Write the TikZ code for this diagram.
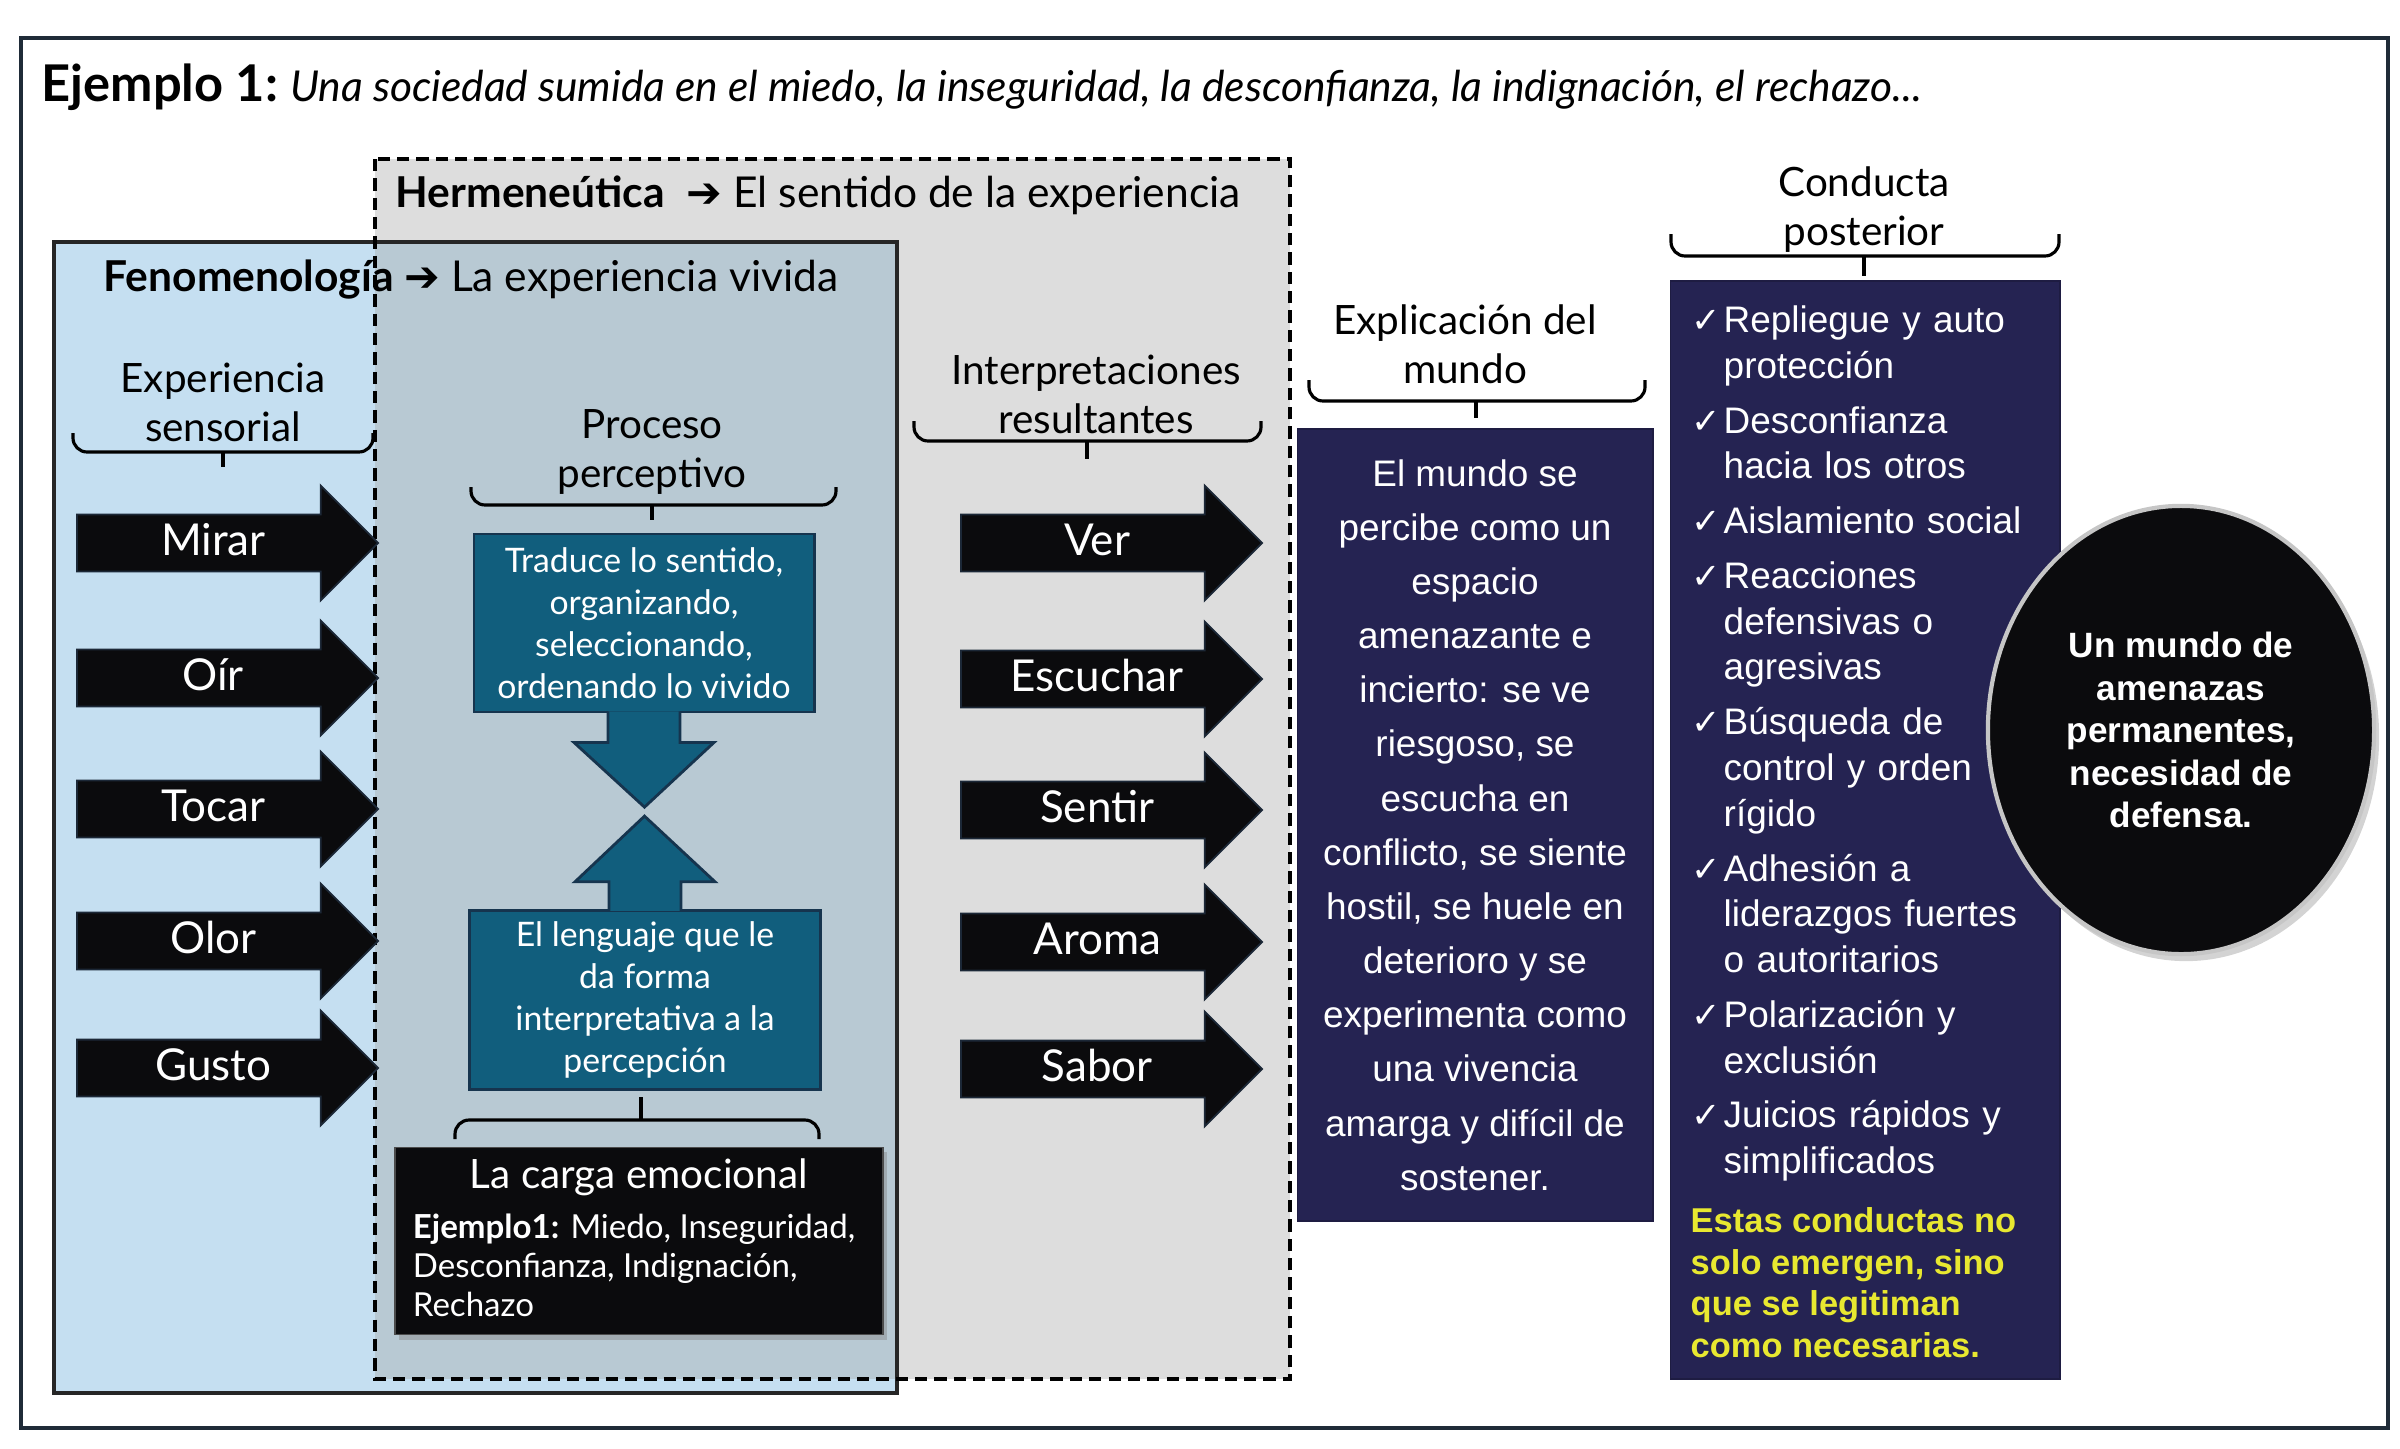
\documentclass[tikz,border=0pt]{standalone}
\usepackage{fontspec}
\setmainfont{Lato}
\newfontfamily\arialf{Liberation Sans}
\newfontfamily\symf{DejaVu Sans}
\usepackage{xcolor}
\definecolor{framec}{RGB}{31,43,56}
\definecolor{fenoc}{RGB}{197,223,241}
\definecolor{overc}{RGB}{184,201,211}
\definecolor{hermc}{RGB}{221,221,221}
\definecolor{tealc}{RGB}{17,94,125}
\definecolor{tealedge}{RGB}{22,52,78}
\definecolor{navyc}{RGB}{37,35,82}
\definecolor{blkc}{RGB}{11,11,13}
\definecolor{edgec}{RGB}{28,40,55}
\definecolor{yelc}{RGB}{232,232,48}
\usepackage{tikz}
\usetikzlibrary{arrows.meta,shapes,positioning,calc,shadows}

\newcommand{\chkitem}[1]{\par\hangindent=0.32cm\hangafter=1\noindent\makebox[0.32cm][l]{\symf\fontsize{10}{10}\selectfont ✓}#1\par\vspace{2.6pt}}

\begin{document}
\begin{tikzpicture}[x=0.01cm,y=-0.01cm,
  outerframe/.style={draw=framec,line width=1.1pt},
  fenoline/.style={draw=black!85,line width=1.1pt},
  hermline/.style={draw=black,line width=0.9pt,dash pattern=on 3.5pt off 2pt},
  zhead/.style={inner sep=0pt,font=\fontsize{12.1}{14}\selectfont},
  colhead/.style={align=center,font=\fontsize{11.5}{13.9}\selectfont},
  bracel/.style={draw=black,line width=0.9pt,rounded corners=4pt},
  blkarrow/.style={single arrow,fill=blkc,draw=edgec,line width=0.5pt,single arrow head extend=0.29cm,single arrow tip angle=90,minimum height=3.01cm,inner xsep=0pt,inner ysep=0.1cm,text height=0.3cm,text depth=0.05cm,text=white,font=\fontsize{12.5}{14}\selectfont,anchor=tail},
  tbox/.style={rectangle,fill=tealc,draw=tealedge,line width=0.8pt,text=white,align=center,font=\fontsize{9.6}{11.9}\selectfont},
  tarrow/.style={fill=tealc,draw=tealedge,line width=0.8pt},
  cbox/.style={rectangle,fill=blkc,draw=gray!60!black,line width=0.4pt,drop shadow={opacity=0.4,shadow xshift=0.04cm,shadow yshift=-0.05cm}},
  nbox/.style={rectangle,fill=navyc,draw=navyc!80!black,line width=0.5pt,text=white}
]
  \useasboundingbox (0,0) rectangle (2400,1448);

  % Frame and title
  \draw[outerframe] (21,38) rectangle (2388,1428);
  \node[anchor=base west,inner sep=0pt] (title) at (41,101) {{\fontsize{14.4}{16}\selectfont\bfseries Ejemplo 1:} {\fontsize{12.1}{14}\selectfont\itshape Una sociedad sumida en el miedo, la inseguridad, la desconfianza, la indignación, el rechazo...}};

  % Zones
  \fill[hermc] (375,159) rectangle (1290,1379);
  \fill[fenoc] (54,242) rectangle (897,1393);
  \fill[overc] (375,242) rectangle (897,1379);
  \draw[fenoline] (54,242) rectangle (897,1393);
  \draw[hermline] (375,159) rectangle (1290,1379);

  \node[zhead,anchor=base west] (hermt) at (395,207) {\textbf{Hermeneútica}\ \ {\symf ➔} El sentido de la experiencia};
  \node[zhead,anchor=base west] (fenot) at (103,291) {\textbf{Fenomenología} {\symf ➔} La experiencia vivida};

  % Column headings
  \node[colhead] (sens) at (223,402) {Experiencia\\sensorial};
  \node[colhead] (proc) at (652,452) {Proceso\\perceptivo};
  \node[colhead] (interp) at (1096,394) {Interpretaciones\\resultantes};
  \node[colhead] (expl) at (1465,344) {Explicación del\\mundo};
  \node[colhead] (cond) at (1864,210) {Conducta\\posterior};

  % Braces
  \draw[bracel] (73,433) -- (73,452) -- (373,452) -- (373,433);
  \draw[bracel] (223,452) -- (223,467);
  \draw[bracel] (471,487) -- (471,505) -- (836,505) -- (836,487);
  \draw[bracel] (652,505) -- (652,520);
  \draw[bracel] (914,421) -- (914,441) -- (1261,441) -- (1261,421);
  \draw[bracel] (1087,441) -- (1087,459);
  \draw[bracel] (1309,380) -- (1309,401) -- (1645,401) -- (1645,380);
  \draw[bracel] (1476,401) -- (1476,418);
  \draw[bracel] (1671,234) -- (1671,256) -- (2059,256) -- (2059,234);
  \draw[bracel] (1864,256) -- (1864,276);
  \draw[bracel] (455,1139) -- (455,1120) -- (819,1120) -- (819,1139);
  \draw[bracel] (641,1120) -- (641,1097);

  % Senses
  \node[blkarrow] (mirar) at (76,543) {Mirar};
  \node[blkarrow] (oir) at (76,678) {Oír};
  \node[blkarrow] (tocar) at (76,809) {Tocar};
  \node[blkarrow] (olor) at (76,941) {Olor};
  \node[blkarrow] (gusto) at (76,1068) {Gusto};

  % Interpretations
  \node[blkarrow] (ver) at (960,543) {Ver};
  \node[blkarrow] (escuchar) at (960,679) {Escuchar};
  \node[blkarrow] (sentir) at (960,810) {Sentir};
  \node[blkarrow] (aroma) at (960,942) {Aroma};
  \node[blkarrow] (sabor) at (960,1069) {Sabor};

  % Perceptive process
  \node[tbox,minimum width=3.4cm,minimum height=1.78cm] (tb1) at (644,623) {Traduce lo sentido,\\organizando,\\seleccionando,\\ordenando lo vivido};
  \node[tbox,minimum width=3.5cm,minimum height=1.75cm] (tb2) at (645,1000) {El lenguaje que le\\da forma\\interpretativa a la\\percepción};
  \path (tb1.south) -- (tb2.north) coordinate[pos=0.5] (meet);
  \filldraw[tarrow] ($(tb1.south)+(-36,-2)$) -- ($(tb1.south)+(-36,29)$) -- ($(tb1.south)+(-70,29)$) -- ($(meet)+(0,-4)$) -- ($(tb1.south)+(70,29)$) -- ($(tb1.south)+(36,29)$) -- ($(tb1.south)+(36,-2)$);
  \filldraw[tarrow] ($(tb2.north)+(-36,2)$) -- ($(tb2.north)+(-36,-27)$) -- ($(tb2.north)+(-70,-27)$) -- ($(meet)+(0,5)$) -- ($(tb2.north)+(70,-27)$) -- ($(tb2.north)+(36,-27)$) -- ($(tb2.north)+(36,2)$);

  % Emotional charge
  \node[cbox,minimum width=4.88cm,minimum height=1.87cm] (carga) at (639,1241) {};
  \node[text=white,anchor=base,font=\fontsize{11.5}{14}\selectfont] (cargat) at ($(carga.north)+(0,42)$) {La carga emocional};
  \node[anchor=north west,text=white,align=left,inner sep=0pt,font=\fontsize{9.4}{11.2}\selectfont] (cargaej) at ($(carga.north west)+(18,66)$) {\textbf{Ejemplo1:} Miedo, Inseguridad,\\Desconfianza, Indignación,\\Rechazo};

  % World explanation
  \node[nbox,minimum width=3.55cm,minimum height=7.91cm,align=center,font=\arialf\fontsize{10.5}{15.4}\selectfont] (world) at (1475,825) {El mundo se\\percibe como un\\espacio\\amenazante e\\incierto: se ve\\riesgoso, se\\escucha en\\conflicto, se siente\\hostil, se huele en\\deterioro y se\\experimenta como\\una vivencia\\amarga y difícil de\\sostener.};

  % Later conduct
  \node[nbox,minimum width=3.89cm,minimum height=10.97cm] (conduct) at (1865,830) {};
  \node[anchor=north west,text width=3.62cm,text=white,inner sep=0pt,font=\arialf\fontsize{10.5}{13}\selectfont] (clist) at (1691,286) {%
    \chkitem{Repliegue y auto\newline protección}
    \chkitem{Desconfianza\newline hacia los otros}
    \chkitem{Aislamiento social}
    \chkitem{Reacciones\newline defensivas o\newline agresivas}
    \chkitem{Búsqueda de\newline control y orden\newline rígido}
    \chkitem{Adhesión a\newline liderazgos fuertes\newline o autoritarios}
    \chkitem{Polarización y\newline exclusión}
    \chkitem{Juicios rápidos y\newline simplificados}};
  \node[anchor=north west,text=yelc,align=left,inner sep=0pt,font=\arialf\bfseries\fontsize{9.8}{11.8}\selectfont] (cnote) at (1690,1207) {Estas conductas no\\solo emergen, sino\\que se legitiman\\como necesarias.};

  % Threat ellipse
  \node[ellipse,minimum width=3.86cm,minimum height=4.48cm,fill=blkc,draw=gray!45,line width=1.2pt,drop shadow={opacity=0.35,shadow xshift=0.05cm,shadow yshift=-0.07cm},text=white,align=center,font=\arialf\bfseries\fontsize{10}{12.1}\selectfont] (threat) at (2181,730) {Un mundo de\\amenazas\\permanentes,\\necesidad de\\defensa.};
\end{tikzpicture}
\end{document}
